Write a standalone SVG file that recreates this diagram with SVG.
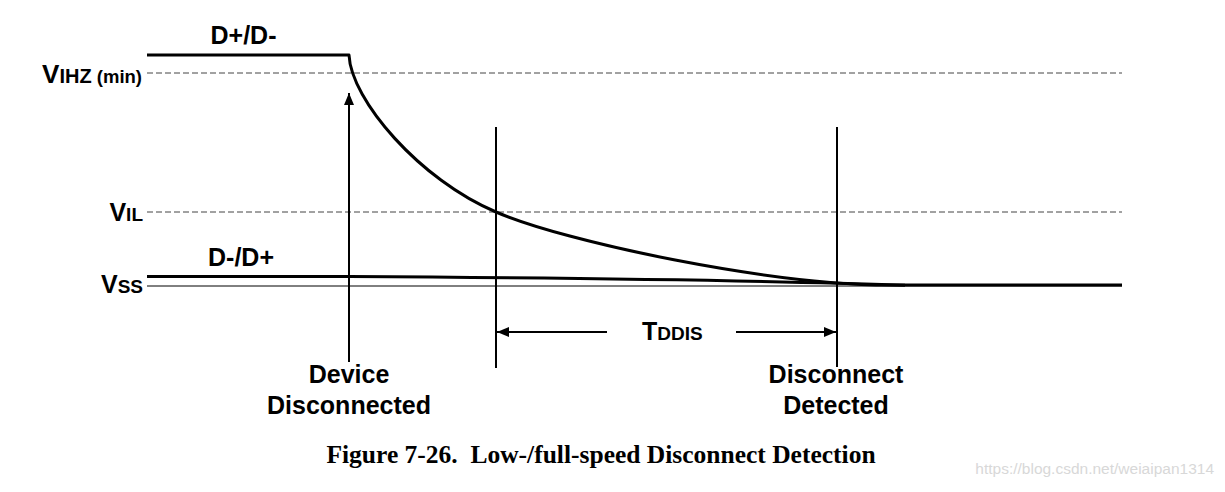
<svg xmlns="http://www.w3.org/2000/svg" width="1225" height="492" viewBox="0 0 1225 492">
<style>
.lbl{font-family:"Liberation Sans",Arial,sans-serif;font-weight:bold;font-size:25px;fill:#000}
.sub{font-size:19px}
.cap{font-family:"Liberation Serif","Times New Roman",serif;font-weight:bold;font-size:25.5px;fill:#000}
.dash{stroke:#444;stroke-width:1;stroke-dasharray:6 3;fill:none}
.sig{stroke:#000;stroke-width:3;fill:none;stroke-linejoin:round}
.vl{stroke:#000;stroke-width:2;fill:none}
.wm{font-family:"Liberation Sans",Arial,sans-serif;font-size:15.5px;fill:#d8d8d8}
</style>
<defs>
<marker id="ah" viewBox="0 0 12 10" refX="12" refY="5" markerWidth="12" markerHeight="10" markerUnits="userSpaceOnUse" orient="auto">
<path d="M0,0 L12,5 L0,10 Z" fill="#000"/>
</marker>
</defs>
<g id="levels">
<line class="dash" x1="147" y1="73" x2="1122" y2="73"/>
<line class="dash" x1="147" y1="212" x2="1122" y2="212"/>
<line x1="147" y1="286" x2="1122" y2="286" stroke="#000" stroke-width="1"/>
<text class="lbl" x="142" y="83" text-anchor="end"><tspan font-size="26">V</tspan><tspan font-size="20">IHZ</tspan><tspan font-size="18.5"> (min)</tspan></text>
<text class="lbl" x="143" y="221" text-anchor="end">V<tspan class="sub">IL</tspan></text>
<text class="lbl" x="143" y="293" text-anchor="end">V<tspan class="sub">SS</tspan></text>
</g>
<g id="signals">
<path class="sig" d="M147,55 L349,55 C351,100 420,180 496,212 C565,242 770,285 890,285 L1122,285"/>
<path class="sig" d="M147,276.5 L349,276.5 C600,278 800,281.5 905,285.3"/>
<text class="lbl" x="243.5" y="44" text-anchor="middle">D+/D-</text>
<text class="lbl" x="241" y="266" text-anchor="middle">D-/D+</text>
</g>
<g id="connectors">
<line class="vl" x1="349" y1="362" x2="349" y2="93" marker-end="url(#ah)"/>
<line class="vl" x1="496" y1="127" x2="496" y2="368"/>
<line class="vl" x1="837" y1="127" x2="837" y2="367"/>
<line class="vl" x1="607" y1="332" x2="497" y2="332" marker-end="url(#ah)"/>
<line class="vl" x1="736" y1="332" x2="836" y2="332" marker-end="url(#ah)"/>
</g>
<g id="labels">
<text class="lbl" x="642" y="340">T<tspan class="sub">DDIS</tspan></text>
<text class="lbl" x="349" y="383" text-anchor="middle">Device</text>
<text class="lbl" x="349" y="414" text-anchor="middle">Disconnected</text>
<text class="lbl" x="836" y="383" text-anchor="middle">Disconnect</text>
<text class="lbl" x="836" y="414" text-anchor="middle">Detected</text>
<text class="cap" x="601" y="463" text-anchor="middle" xml:space="preserve">Figure 7-26.  Low-/full-speed Disconnect Detection</text>
<text class="wm" x="1214" y="474" text-anchor="end">https://blog.csdn.net/weiaipan1314</text>
</g>
</svg>
